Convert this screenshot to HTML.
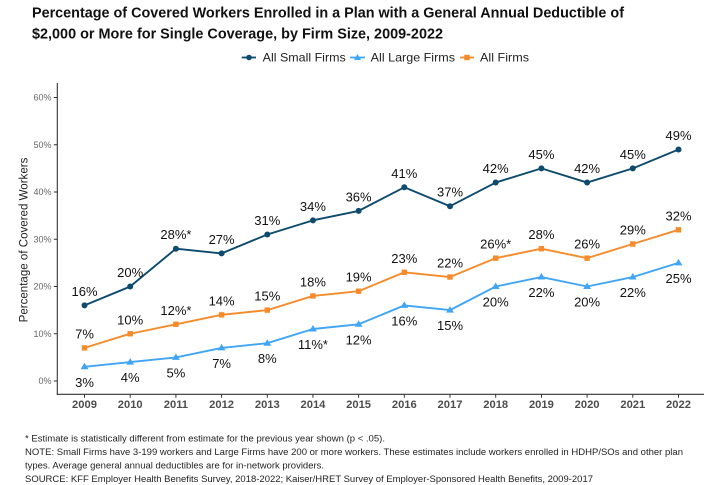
<!DOCTYPE html>
<html><head><meta charset="utf-8"><style>
html,body{margin:0;padding:0;background:#fff;}
svg{display:block;font-family:"Liberation Sans",Arial,sans-serif;}
</style></head><body>
<svg width="713" height="485" viewBox="0 0 713 485" xmlns="http://www.w3.org/2000/svg">
<rect width="713" height="485" fill="#fff"/>
<!-- Title -->
<text x="32" y="17.5" font-size="14.4" font-weight="bold" fill="#111" textLength="592" lengthAdjust="spacingAndGlyphs">Percentage of Covered Workers Enrolled in a Plan with a General Annual Deductible of</text>
<text x="32" y="38.5" font-size="14.4" font-weight="bold" fill="#111" textLength="411" lengthAdjust="spacingAndGlyphs">$2,000 or More for Single Coverage, by Firm Size, 2009-2022</text>
<!-- Legend -->
<g font-size="11.7" fill="#222">
<line x1="241.7" y1="57.5" x2="256" y2="57.5" stroke="#0c4a6e" stroke-width="1.8"/>
<circle cx="249" cy="57.5" r="2.8" fill="#0c4a6e"/>
<text x="262.7" y="61.6" textLength="83" lengthAdjust="spacingAndGlyphs">All Small Firms</text>
<line x1="350" y1="57.5" x2="365" y2="57.5" stroke="#41a5f5" stroke-width="1.8"/>
<polygon points="357.5,54 354,60 361,60" fill="#41a5f5"/>
<text x="370.7" y="61.6" textLength="84.3" lengthAdjust="spacingAndGlyphs">All Large Firms</text>
<line x1="460" y1="57.5" x2="474" y2="57.5" stroke="#f58b2b" stroke-width="1.8"/>
<rect x="464.3" y="54.8" width="5.4" height="5.4" fill="#f58b2b"/>
<text x="480" y="61.6" textLength="49" lengthAdjust="spacingAndGlyphs">All Firms</text>
</g>
<!-- Y axis title -->
<text transform="translate(27.5,240) rotate(-90)" text-anchor="middle" font-size="11.55" fill="#222">Percentage of Covered Workers</text>
<!-- Axes -->
<line x1="57.3" y1="83" x2="57.3" y2="394.8" stroke="#333" stroke-width="1.1"/>
<line x1="56.8" y1="394.3" x2="704" y2="394.3" stroke="#333" stroke-width="1.1"/>
<!-- Y ticks -->
<g stroke="#333" stroke-width="1">
<line x1="53.8" y1="381" x2="57.3" y2="381"/>
<line x1="53.8" y1="333.75" x2="57.3" y2="333.75"/>
<line x1="53.8" y1="286.5" x2="57.3" y2="286.5"/>
<line x1="53.8" y1="239.25" x2="57.3" y2="239.25"/>
<line x1="53.8" y1="192" x2="57.3" y2="192"/>
<line x1="53.8" y1="144.75" x2="57.3" y2="144.75"/>
<line x1="53.8" y1="97.5" x2="57.3" y2="97.5"/>
</g>
<g font-size="9" fill="#666" text-anchor="end">
<text x="51.5" y="384.2">0%</text>
<text x="51.5" y="336.95">10%</text>
<text x="51.5" y="289.7">20%</text>
<text x="51.5" y="242.45">30%</text>
<text x="51.5" y="195.2">40%</text>
<text x="51.5" y="147.95">50%</text>
<text x="51.5" y="100.7">60%</text>
</g>
<!-- X ticks -->
<g stroke="#333" stroke-width="1">
<line x1="84.5" y1="394.3" x2="84.5" y2="397.8"/>
<line x1="130.2" y1="394.3" x2="130.2" y2="397.8"/>
<line x1="175.9" y1="394.3" x2="175.9" y2="397.8"/>
<line x1="221.6" y1="394.3" x2="221.6" y2="397.8"/>
<line x1="267.3" y1="394.3" x2="267.3" y2="397.8"/>
<line x1="312.95" y1="394.3" x2="312.95" y2="397.8"/>
<line x1="358.6" y1="394.3" x2="358.6" y2="397.8"/>
<line x1="404.3" y1="394.3" x2="404.3" y2="397.8"/>
<line x1="450" y1="394.3" x2="450" y2="397.8"/>
<line x1="495.7" y1="394.3" x2="495.7" y2="397.8"/>
<line x1="541.4" y1="394.3" x2="541.4" y2="397.8"/>
<line x1="587.1" y1="394.3" x2="587.1" y2="397.8"/>
<line x1="632.8" y1="394.3" x2="632.8" y2="397.8"/>
<line x1="678.5" y1="394.3" x2="678.5" y2="397.8"/>
</g>
<g font-size="11.2" font-weight="bold" fill="#4d4d4d" text-anchor="middle">
<text x="84.5" y="408.2">2009</text>
<text x="130.2" y="408.2">2010</text>
<text x="175.9" y="408.2">2011</text>
<text x="221.6" y="408.2">2012</text>
<text x="267.3" y="408.2">2013</text>
<text x="312.95" y="408.2">2014</text>
<text x="358.6" y="408.2">2015</text>
<text x="404.3" y="408.2">2016</text>
<text x="450" y="408.2">2017</text>
<text x="495.7" y="408.2">2018</text>
<text x="541.4" y="408.2">2019</text>
<text x="587.1" y="408.2">2020</text>
<text x="632.8" y="408.2">2021</text>
<text x="678.5" y="408.2">2022</text>
</g>
<!-- Series lines -->
<polyline fill="none" stroke="#0c4a6e" stroke-width="1.9" stroke-linejoin="round" points="84.5,305.4 130.2,286.5 175.9,248.7 221.6,253.4 267.3,234.5 312.95,220.35 358.6,210.9 404.3,187.3 450,206.2 495.7,182.55 541.4,168.4 587.1,182.55 632.8,168.4 678.5,149.5"/>
<polyline fill="none" stroke="#41a5f5" stroke-width="1.9" stroke-linejoin="round" points="84.5,366.8 130.2,362.1 175.9,357.4 221.6,347.9 267.3,343.2 312.95,329 358.6,324.3 404.3,305.4 450,310.1 495.7,286.5 541.4,277.05 587.1,286.5 632.8,277.05 678.5,262.9"/>
<polyline fill="none" stroke="#f58b2b" stroke-width="1.9" stroke-linejoin="round" points="84.5,347.9 130.2,333.75 175.9,324.3 221.6,314.85 267.3,310.1 312.95,295.95 358.6,291.2 404.3,272.3 450,277.05 495.7,258.15 541.4,248.7 587.1,258.15 632.8,244 678.5,229.8"/>
<!-- Markers small -->
<g fill="#0c4a6e">
<circle cx="84.5" cy="305.4" r="3"/><circle cx="130.2" cy="286.5" r="3"/><circle cx="175.9" cy="248.7" r="3"/><circle cx="221.6" cy="253.4" r="3"/><circle cx="267.3" cy="234.5" r="3"/><circle cx="312.95" cy="220.35" r="3"/><circle cx="358.6" cy="210.9" r="3"/><circle cx="404.3" cy="187.3" r="3"/><circle cx="450" cy="206.2" r="3"/><circle cx="495.7" cy="182.55" r="3"/><circle cx="541.4" cy="168.4" r="3"/><circle cx="587.1" cy="182.55" r="3"/><circle cx="632.8" cy="168.4" r="3"/><circle cx="678.5" cy="149.5" r="3"/>
</g>
<!-- Markers large (triangles) -->
<g fill="#41a5f5">
<polygon points="84.5,362.8 80.6,369.3 88.4,369.3"/>
<polygon points="130.2,358.1 126.3,364.6 134.1,364.6"/>
<polygon points="175.9,353.4 172,359.9 179.8,359.9"/>
<polygon points="221.6,343.9 217.7,350.4 225.5,350.4"/>
<polygon points="267.3,339.2 263.4,345.7 271.2,345.7"/>
<polygon points="312.95,325 309.05,331.5 316.85,331.5"/>
<polygon points="358.6,320.3 354.7,326.8 362.5,326.8"/>
<polygon points="404.3,301.4 400.4,307.9 408.2,307.9"/>
<polygon points="450,306.1 446.1,312.6 453.9,312.6"/>
<polygon points="495.7,282.5 491.8,289 499.6,289"/>
<polygon points="541.4,273.05 537.5,279.55 545.3,279.55"/>
<polygon points="587.1,282.5 583.2,289 591,289"/>
<polygon points="632.8,273.05 628.9,279.55 636.7,279.55"/>
<polygon points="678.5,258.9 674.6,265.4 682.4,265.4"/>
</g>
<!-- Markers all (squares) -->
<g fill="#f58b2b">
<rect x="81.8" y="345.2" width="5.4" height="5.4"/>
<rect x="127.5" y="331.05" width="5.4" height="5.4"/>
<rect x="173.2" y="321.6" width="5.4" height="5.4"/>
<rect x="218.9" y="312.15" width="5.4" height="5.4"/>
<rect x="264.6" y="307.4" width="5.4" height="5.4"/>
<rect x="310.25" y="293.25" width="5.4" height="5.4"/>
<rect x="355.9" y="288.5" width="5.4" height="5.4"/>
<rect x="401.6" y="269.6" width="5.4" height="5.4"/>
<rect x="447.3" y="274.35" width="5.4" height="5.4"/>
<rect x="493" y="255.45" width="5.4" height="5.4"/>
<rect x="538.7" y="246" width="5.4" height="5.4"/>
<rect x="584.4" y="255.45" width="5.4" height="5.4"/>
<rect x="630.1" y="241.3" width="5.4" height="5.4"/>
<rect x="675.8" y="227.1" width="5.4" height="5.4"/>
</g>
<!-- Data labels -->
<g font-size="13" fill="#111" text-anchor="middle">
<!-- small: above -->
<text x="84.5" y="295.9">16%</text>
<text x="130.2" y="277">20%</text>
<text x="175.9" y="239.2">28%*</text>
<text x="221.6" y="243.9">27%</text>
<text x="267.3" y="225">31%</text>
<text x="312.95" y="210.85">34%</text>
<text x="358.6" y="201.4">36%</text>
<text x="404.3" y="177.8">41%</text>
<text x="450" y="196.7">37%</text>
<text x="495.7" y="173.05">42%</text>
<text x="541.4" y="158.9">45%</text>
<text x="587.1" y="173.05">42%</text>
<text x="632.8" y="158.9">45%</text>
<text x="678.5" y="140">49%</text>
<!-- all: above -->
<text x="84.5" y="338.4">7%</text>
<text x="130.2" y="324.25">10%</text>
<text x="175.9" y="314.8">12%*</text>
<text x="221.6" y="305.35">14%</text>
<text x="267.3" y="300.6">15%</text>
<text x="312.95" y="286.45">18%</text>
<text x="358.6" y="281.7">19%</text>
<text x="404.3" y="262.8">23%</text>
<text x="450" y="267.55">22%</text>
<text x="495.7" y="248.65">26%*</text>
<text x="541.4" y="239.2">28%</text>
<text x="587.1" y="248.65">26%</text>
<text x="632.8" y="234.5">29%</text>
<text x="678.5" y="220.3">32%</text>
<!-- large: below -->
<text x="84.5" y="386.8">3%</text>
<text x="130.2" y="382.1">4%</text>
<text x="175.9" y="377.4">5%</text>
<text x="221.6" y="367.9">7%</text>
<text x="267.3" y="363.2">8%</text>
<text x="312.95" y="349">11%*</text>
<text x="358.6" y="344.3">12%</text>
<text x="404.3" y="325.4">16%</text>
<text x="450" y="330.1">15%</text>
<text x="495.7" y="306.5">20%</text>
<text x="541.4" y="297.05">22%</text>
<text x="587.1" y="306.5">20%</text>
<text x="632.8" y="297.05">22%</text>
<text x="678.5" y="282.9">25%</text>
</g>
<!-- Footnotes -->
<g font-size="9.6" fill="#222">
<text x="25" y="441.5" textLength="360" lengthAdjust="spacingAndGlyphs">* Estimate is statistically different from estimate for the previous year shown (p &lt; .05).</text>
<text x="25" y="455" textLength="658" lengthAdjust="spacingAndGlyphs">NOTE: Small Firms have 3-199 workers and Large Firms have 200 or more workers. These estimates include workers enrolled in HDHP/SOs and other plan</text>
<text x="25" y="468.5" textLength="299" lengthAdjust="spacingAndGlyphs">types. Average general annual deductibles are for in-network providers.</text>
<text x="25" y="482" textLength="568" lengthAdjust="spacingAndGlyphs">SOURCE: KFF Employer Health Benefits Survey, 2018-2022; Kaiser/HRET Survey of Employer-Sponsored Health Benefits, 2009-2017</text>
</g>
</svg>
</body></html>
